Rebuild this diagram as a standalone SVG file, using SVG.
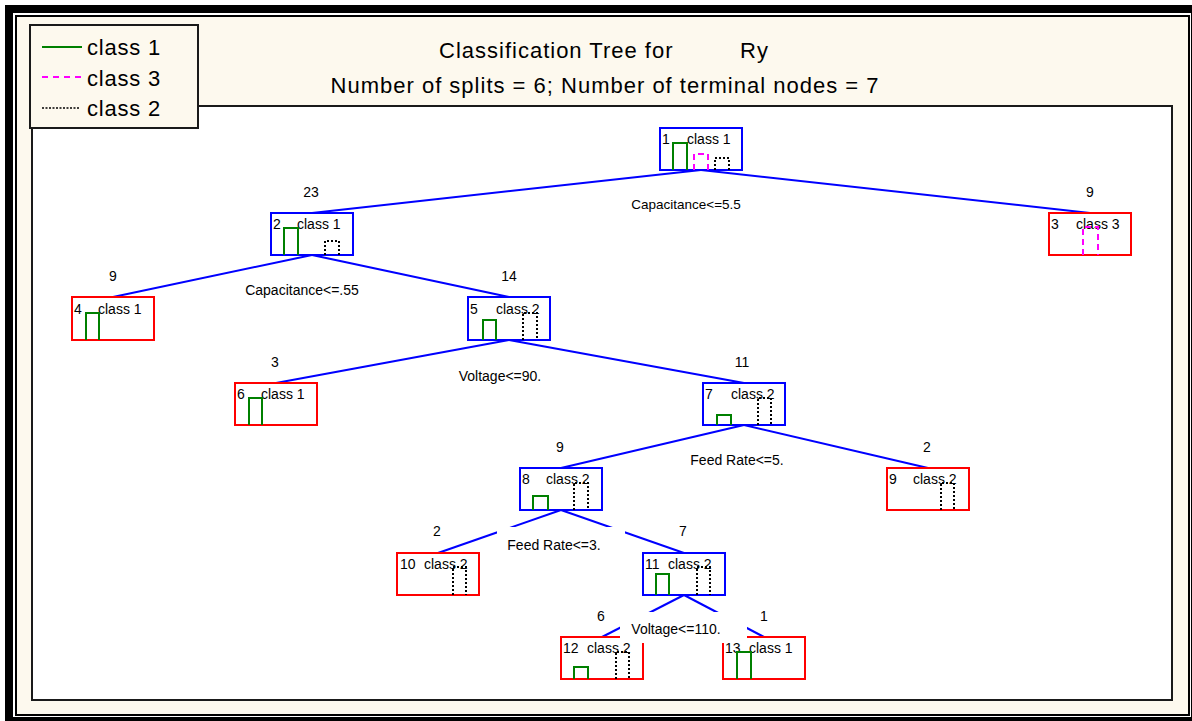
<svg xmlns="http://www.w3.org/2000/svg" width="1192" height="721" viewBox="0 0 1192 721">
  <style>
    text { font-family: "Liberation Sans", Arial, sans-serif; fill: #000; }
    .big { font-size: 22px; letter-spacing: 1px; }
    .leg { font-size: 22px; letter-spacing: 0.8px; }
    .small { font-size: 14px; }
    .mid { text-anchor: middle; }
    .box-int { fill: #fff; stroke: #0000ff; stroke-width: 2; }
    .box-leaf { fill: #fff; stroke: #ff0000; stroke-width: 2; }
    .c1 { fill: none; stroke: #008000; stroke-width: 2; }
    .c3 { fill: none; stroke: #ff00ff; stroke-width: 2; stroke-dasharray: 6 4; }
    .c2 { fill: none; stroke: #000; stroke-width: 2; stroke-dasharray: 2 2; }
    .edge { stroke: #0000ff; stroke-width: 2; fill: none; }
    .lblbg { fill: #fff; stroke: none; }
  </style>

  <!-- page frame -->
  <rect x="0" y="0" width="1192" height="721" fill="#fff"/>
  <rect x="9" y="9" width="1186" height="712" fill="none" stroke="#000" stroke-width="8"/>
  <rect x="16" y="16" width="1173" height="699" fill="#fdf9ee" stroke="#000" stroke-width="2"/>

  <!-- plot area -->
  <rect x="32" y="106" width="1140" height="594" fill="#fff" stroke="#1a1a1a" stroke-width="2"/>

  <!-- titles -->
  <text class="big" x="439" y="58">Classification Tree for</text>
  <text class="big" x="740" y="58">Ry</text>
  <text class="big" x="605" y="93" text-anchor="middle">Number of splits = 6; Number of terminal nodes = 7</text>

  <!-- legend -->
  <g id="legend">
    <rect x="30" y="25" width="168" height="103" fill="#fdf9ee" stroke="#1a1a1a" stroke-width="2"/>
    <line x1="42" y1="47" x2="82" y2="47" class="c1"/>
    <line x1="42" y1="77" x2="82" y2="77" class="c3" style="stroke-dasharray:6 5"/>
    <line x1="42" y1="108" x2="80" y2="108" class="c2" style="stroke-width:1.5;stroke-dasharray:2 1.5"/>
    <text class="leg" x="87" y="55">class 1</text>
    <text class="leg" x="87" y="86">class 3</text>
    <text class="leg" x="87" y="116">class 2</text>
  </g>

  <!-- connectors: parent bottom-centre to child top-centre -->
  <g id="connectors">
    <line class="edge" x1="701" y1="170" x2="312" y2="213"/>
    <line class="edge" x1="701" y1="170" x2="1090" y2="213"/>
    <line class="edge" x1="312" y1="255" x2="113" y2="297"/>
    <line class="edge" x1="312" y1="255" x2="509" y2="297"/>
    <line class="edge" x1="509" y1="340" x2="276" y2="383"/>
    <line class="edge" x1="509" y1="340" x2="744" y2="383"/>
    <line class="edge" x1="744" y1="425" x2="561" y2="468"/>
    <line class="edge" x1="744" y1="425" x2="928" y2="468"/>
    <line class="edge" x1="561" y1="510" x2="438" y2="553"/>
    <line class="edge" x1="561" y1="510" x2="684" y2="553"/>
    <line class="edge" x1="684" y1="595" x2="602" y2="637"/>
    <line class="edge" x1="684" y1="595" x2="764" y2="637"/>
  </g>

  <!-- node counts -->
  <g id="counts">
    <text class="small mid" x="311" y="197">23</text>
    <text class="small mid" x="1090" y="197">9</text>
    <text class="small mid" x="113" y="281">9</text>
    <text class="small mid" x="509" y="281">14</text>
    <text class="small mid" x="275" y="367">3</text>
    <text class="small mid" x="742" y="367">11</text>
    <text class="small mid" x="560" y="452">9</text>
    <text class="small mid" x="927" y="452">2</text>
    <text class="small mid" x="437" y="536">2</text>
    <text class="small mid" x="683" y="536">7</text>
    <text class="small mid" x="601" y="621">6</text>
  </g>

  <!-- nodes -->
  <g id="node1" transform="translate(660,128)">
    <rect class="box-int" width="82" height="42"/>
    <text class="small" x="2" y="16">1</text><text class="small" x="27" y="16">class 1</text>
    <path class="c1" d="M13 42V15H27V42"/>
    <path class="c3" d="M34 42V26H48V42"/>
    <path class="c2" d="M55 42V30H69V42"/>
  </g>
  <g id="node2" transform="translate(271,213)">
    <rect class="box-int" width="82" height="42"/>
    <text class="small" x="2" y="16">2</text><text class="small" x="26" y="16">class 1</text>
    <path class="c1" d="M13 42V15H27V42"/>
    <path class="c2" d="M54 42V28H68V42"/>
  </g>
  <g id="node3" transform="translate(1049,213)">
    <rect class="box-leaf" width="82" height="42"/>
    <text class="small" x="2" y="16">3</text><text class="small" x="27" y="16">class 3</text>
    <path class="c3" d="M34 42V14H49V42"/>
  </g>
  <g id="node4" transform="translate(72,297)">
    <rect class="box-leaf" width="82" height="43"/>
    <text class="small" x="2" y="17">4</text><text class="small" x="26" y="17">class 1</text>
    <path class="c1" d="M14 43V16H27V43"/>
  </g>
  <g id="node5" transform="translate(468,297)">
    <rect class="box-int" width="82" height="43"/>
    <text class="small" x="2" y="17">5</text><text class="small" x="28" y="17">class 2</text>
    <path class="c1" d="M15 43V23H28V43"/>
    <path class="c2" d="M55 43V16H69V43"/>
  </g>
  <g id="node6" transform="translate(235,383)">
    <rect class="box-leaf" width="82" height="42"/>
    <text class="small" x="2" y="16">6</text><text class="small" x="26" y="16">class 1</text>
    <path class="c1" d="M14 42V15H27V42"/>
  </g>
  <g id="node7" transform="translate(703,383)">
    <rect class="box-int" width="82" height="42"/>
    <text class="small" x="2" y="16">7</text><text class="small" x="28" y="16">class 2</text>
    <path class="c1" d="M14 42V32H28V42"/>
    <path class="c2" d="M55 42V15H68V42"/>
  </g>
  <g id="node8" transform="translate(520,468)">
    <rect class="box-int" width="82" height="42"/>
    <text class="small" x="2" y="16">8</text><text class="small" x="26" y="16">class 2</text>
    <path class="c1" d="M13 42V28H28V42"/>
    <path class="c2" d="M54 42V15H68V42"/>
  </g>
  <g id="node9" transform="translate(887,468)">
    <rect class="box-leaf" width="82" height="42"/>
    <text class="small" x="2" y="16">9</text><text class="small" x="26" y="16">class 2</text>
    <path class="c2" d="M54 42V15H67V42"/>
  </g>
  <g id="node10" transform="translate(397,553)">
    <rect class="box-leaf" width="82" height="42"/>
    <text class="small" x="3" y="16">10</text><text class="small" x="27" y="16">class 2</text>
    <path class="c2" d="M56 42V14H69V42"/>
  </g>
  <g id="node11" transform="translate(643,553)">
    <rect class="box-int" width="82" height="42"/>
    <text class="small" x="2" y="16">11</text><text class="small" x="25" y="16">class 2</text>
    <path class="c1" d="M13 42V21H26V42"/>
    <path class="c2" d="M54 42V14H67V42"/>
  </g>
  <g id="node12" transform="translate(561,637)">
    <rect class="box-leaf" width="82" height="42"/>
    <text class="small" x="2" y="16">12</text><text class="small" x="26" y="16">class 2</text>
    <path class="c1" d="M13 42V30H27V42"/>
    <path class="c2" d="M55 42V15H68V42"/>
  </g>
  <g id="node13" transform="translate(723,637)">
    <rect class="box-leaf" width="82" height="42"/>
    <text class="small" x="2" y="16">13</text><text class="small" x="26" y="16">class 1</text>
    <path class="c1" d="M14 42V15H28V42"/>
  </g>

  <!-- split rules, each on a white label box -->
  <g id="splits">
    <rect class="lblbg" x="630" y="194" width="112" height="19"/>
    <text class="small mid" x="686" y="209" style="font-size:13.5px">Capacitance&lt;=5.5</text>
    <rect class="lblbg" x="240" y="280" width="124" height="19"/>
    <text class="small mid" x="302" y="295">Capacitance&lt;=.55</text>
    <rect class="lblbg" x="455" y="366" width="90" height="19"/>
    <text class="small mid" x="500" y="381">Voltage&lt;=90.</text>
    <rect class="lblbg" x="684" y="450" width="106" height="19"/>
    <text class="small mid" x="737" y="465">Feed Rate&lt;=5.</text>
    <rect class="lblbg" x="497" y="527" width="128" height="31"/>
    <text class="small mid" x="554" y="550">Feed Rate&lt;=3.</text>
    <rect class="lblbg" x="620" y="612" width="127" height="31"/>
    <text class="small mid" x="676" y="634">Voltage&lt;=110.</text>
  </g>

  <!-- count for node 13, printed over the rule box -->
  <text class="small mid" x="764" y="621">1</text>
</svg>
